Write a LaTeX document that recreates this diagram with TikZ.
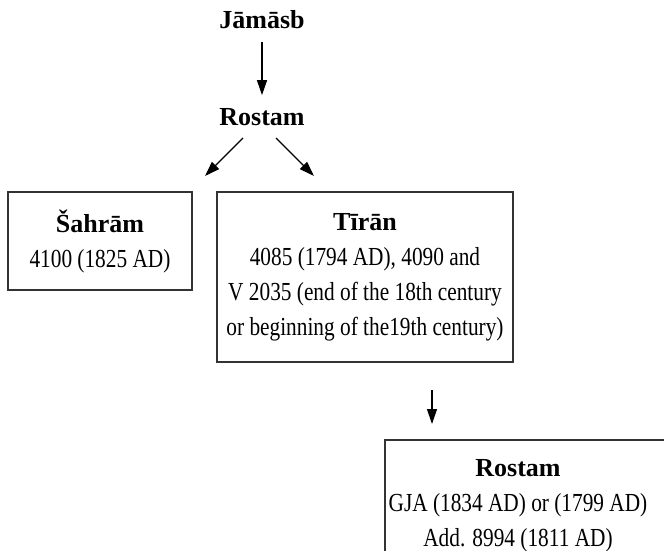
\documentclass[tikz,border=0pt]{standalone}
\usepackage{fontspec}
\setmainfont{Liberation Serif}
\newfontfamily\bodyfont[FakeStretch=0.82]{Liberation Serif}
\usetikzlibrary{arrows.meta,calc}
\definecolor{boxgray}{HTML}{333333}
\newcommand\boxtitle[1]{{\rmfamily\bfseries #1}\\[0pt]}
\begin{document}
\begin{tikzpicture}[x=1pt,y=-1pt,
  title/.style={font=\fontsize{26}{30}\selectfont\bfseries, inner sep=0pt},
  box/.style={draw=boxgray, line width=1.3pt, align=center,
    font=\bodyfont\fontsize{26}{35}\selectfont, inner sep=0pt},
  boxline/.style={draw=boxgray, line width=1.3pt},
  arr/.style={-{Triangle[length=15pt,width=10pt]}, line width=1.3pt, draw=black, fill=black}]
\useasboundingbox (0,0) rectangle (664,551);
\clip (0,0) rectangle (664,551);
\fill[white] (0,0) rectangle (664,551);

\node[title] (jam) at (262,20) {Jāmāsb};
\node[title] (ros1) at (262,117) {Rostam};

\node[box, minimum width=184pt, minimum height=98pt] (sah) at (100,241)
  {\boxtitle{Šahrām}4100 (1825 AD)};
\node[box, minimum width=296pt, minimum height=170pt] (tir) at (365,277)
  {\boxtitle{Tīrān}4085 (1794 AD), 4090 and\\V 2035 (end of the 18th century\\or beginning of the19th century)};

\node[box, draw=none] (ros2) at (518,506)
  {\boxtitle{Rostam}GJA (1834 AD) or (1799 AD)\\Add. 8994 (1811 AD)};
\draw[boxline] (385,440) rectangle (700,620);

\draw[arr] (jam.south) ++(0,13) coordinate (a1s) (a1s) -- ($(ros1.north)+(0,-13)$) coordinate (a1e);
\coordinate (a2s) at (243,138);
\coordinate (a2e) at (205,176);
\coordinate (a3s) at (276,138);
\coordinate (a3e) at (314,176);
\draw[arr] (a2s) -- (a2e);
\draw[arr] (a3s) -- (a3e);
\coordinate (a4s) at (432,390);
\coordinate (a4e) at (432,424);
\draw[arr] (a4s) -- (a4e);
\end{tikzpicture}
\end{document}
